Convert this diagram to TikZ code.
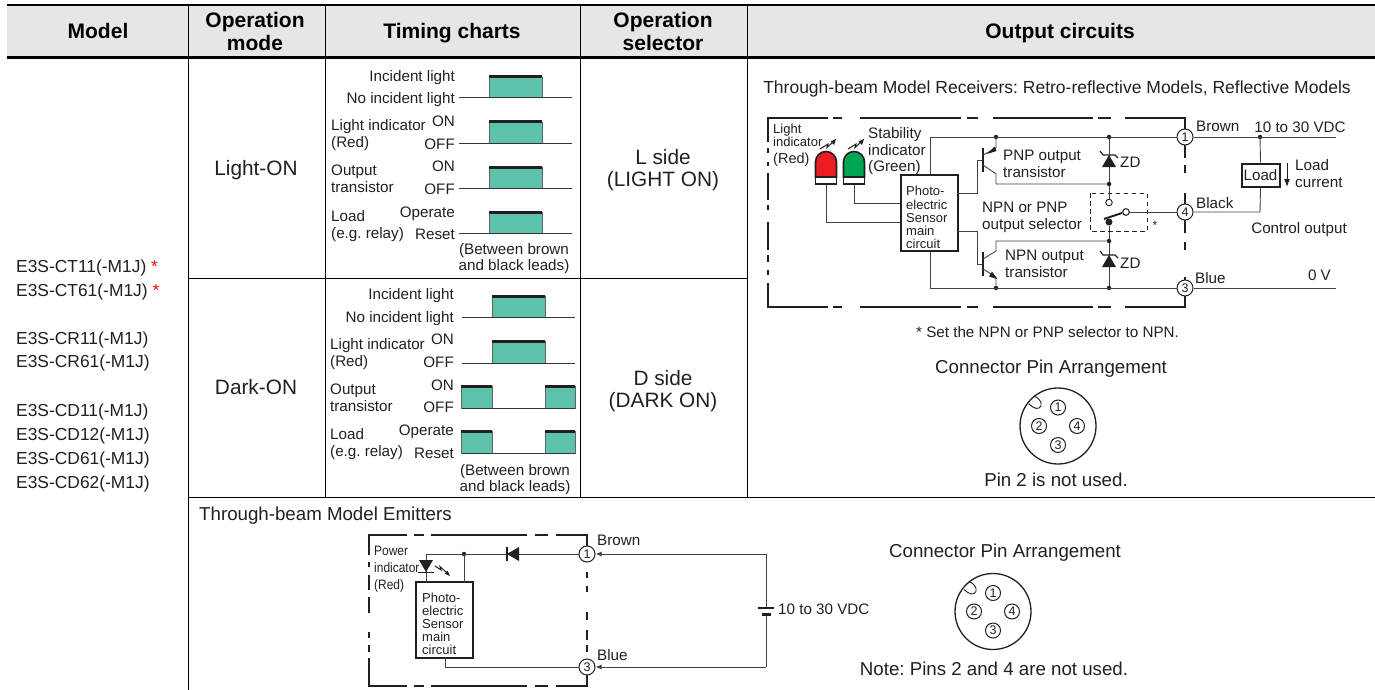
\documentclass[tikz,border=0pt]{standalone}
\usepackage{fontspec}
\setmainfont{Liberation Sans}
\newfontfamily\narrowf[FakeStretch=0.88]{Liberation Sans}
\usetikzlibrary{arrows.meta}
\definecolor{ink}{HTML}{231F20}
\definecolor{teal}{HTML}{5DC3AB}
\definecolor{hdr}{HTML}{E6E6E6}
\definecolor{ledred}{HTML}{ED1C24}
\definecolor{ledgreen}{HTML}{00A651}
\newcommand{\fs}[1]{\fontsize{#1}{#1}\selectfont}
\tikzset{
 txt/.style={inner sep=0pt,text=ink,font=\frenchspacing\fs{15.2},yshift=-3.5pt},
 L/.style={txt,anchor=mid west},
 R/.style={txt,anchor=mid east},
 C/.style={txt,anchor=mid},
 big/.style={font=\frenchspacing\fs{18.7},yshift=-1pt},
 title/.style={font=\frenchspacing\fs{17.5},yshift=-.7pt},
 mod/.style={font=\fs{17.4},yshift=-.7pt},
 mode/.style={font=\fs{20.8},yshift=-1.5pt},
 small/.style={font=\fs{13}},
 tiny/.style={font=\narrowf\fs{13.6}},
 head/.style={inner sep=0pt,anchor=mid,text=black,font=\fs{21}\bfseries,yshift=-5.5pt},
 rule/.style={line width=1.1pt,black},
 thick rule/.style={line width=2.6pt,black},
 wire/.style={line width=0.9pt,ink!85!white},
 frame/.style={line width=2pt,ink},
 bx/.style={draw=ink,line width=2pt,fill=white,inner sep=0pt},
 pin/.style={circle,draw=ink,line width=1pt,fill=white,inner sep=0pt,minimum size=16pt,font=\fs{12.5},text=ink},
 spin/.style={circle,draw=ink,line width=1pt,inner sep=0pt,minimum size=15pt,font=\fs{12.5},text=ink},
 dot/.style={circle,fill=ink,inner sep=0pt,minimum size=4.5pt},
 ring/.style={circle,draw=ink,line width=.9pt,fill=white,inner sep=0pt,minimum size=6.5pt},
 pulsefill/.style={fill=teal,draw=ink!70!white,line width=.8pt},
 pulsetop/.style={line width=3pt,ink},
 base/.style={line width=1pt,ink!90!white},
}
\newcommand{\chartpulse}[4]{%
 \path[pulsefill] (#3,#2) rectangle (#4,#1);
 \draw[pulsetop] (#3,#1) -- (#4,#1);}
\newcommand{\zener}[2]{%
 \fill[ink] (#1,#2) -- (#1-7,#2+12) -- (#1+7,#2+12) -- cycle;
 \draw[line width=1.1pt,ink] (#1-9,#2-4) -- (#1-6,#2) -- (#1+6,#2) -- (#1+9,#2+3);}
\newcommand{\bolt}[2]{%
 \draw[line width=1pt,ink] (#1,#2) -- (#1+8,#2-5) -- (#1+7,#2-1.5) -- (#1+13,#2-7);
 \fill[ink] (#1+16,#2-10) -- (#1+10.5,#2-7.5) -- (#1+14,#2-4) -- cycle;}
\newcommand{\connector}[3]{%
 \node[circle,draw=ink,line width=1.3pt,minimum size=76pt,inner sep=0pt] (#1c) at (#2,#3) {};
 \draw[line width=.9pt,ink] (#2-29,#3-22) .. controls (#2-24,#3-17) and (#2-19,#3-16) .. (#2-17,#3-20) .. controls (#2-16,#3-24) and (#2-19,#3-28) .. (#2-24,#3-30);
 \node[spin] (#11) at (#2,#3-18.5) {1};
 \node[spin] (#12) at (#2-19,#3) {2};
 \node[spin] (#14) at (#2+19,#3) {4};
 \node[spin] (#13) at (#2,#3+19) {3};}
\begin{document}
\begin{tikzpicture}[x=1pt,y=-1pt]
\useasboundingbox (0,0) rectangle (1375,690);
% header
\fill[hdr] (7,5) rectangle (1375,57);
\node[head] (hModel) at (98,30) {Model};
\node[head] (hOp1) at (255,19) {Operation};
\node[head] (hOp2) at (255,42.5) {mode};
\node[head] (hTim) at (452,30) {Timing charts};
\node[head] (hSel1) at (663,19) {Operation};
\node[head] (hSel2) at (663,42.5) {selector};
\node[head] (hOut) at (1060,30) {Output circuits};
% table rules
\draw[thick rule] (7,5) -- (1375,5);
\draw[thick rule] (7,57.5) -- (1375,57.5);
\draw[rule] (188.5,5) -- (188.5,690);
\draw[rule] (325.5,5) -- (325.5,497.5);
\draw[rule] (580.5,5) -- (580.5,497.5);
\draw[rule] (747.5,5) -- (747.5,497.5);
\draw[rule] (188,278.5) -- (747.5,278.5);
\draw[rule] (188,497.5) -- (1375,497.5);
% models
\node[L,mod] (m1) at (16,266) {E3S-CT11(-M1J) \textcolor{red}{*}};
\node[L,mod] (m2) at (16,290) {E3S-CT61(-M1J) \textcolor{red}{*}};
\node[L,mod] (m3) at (16,338) {E3S-CR11(-M1J)};
\node[L,mod] (m4) at (16,361) {E3S-CR61(-M1J)};
\node[L,mod] (m5) at (16,410) {E3S-CD11(-M1J)};
\node[L,mod] (m6) at (16,433.5) {E3S-CD12(-M1J)};
\node[L,mod] (m7) at (16,458) {E3S-CD61(-M1J)};
\node[L,mod] (m8) at (16,482) {E3S-CD62(-M1J)};
% modes
\node[C,mode] (mLon) at (256,168) {Light-ON};
\node[C,mode] (mDon) at (256,387) {Dark-ON};
\node[C,mode] (s1) at (663,157) {L side};
\node[C,mode] (s2) at (663,179) {(LIGHT ON)};
\node[C,mode] (s3) at (663,378) {D side};
\node[C,mode] (s4) at (663,400) {(DARK ON)};
% chart 1
\chartpulse{77}{97.5}{489}{542}
\chartpulse{122}{143}{489}{542}
\chartpulse{167}{188}{489}{542}
\chartpulse{212}{233.5}{489}{542}
\draw[base] (459,97.5)--(572,97.5) (459,143)--(572,143) (459,188)--(572,188) (459,233.5)--(572,233.5);
\node[R] (a1) at (455,75) {Incident light};
\node[R] (a2) at (455,97) {No incident light};
\node[R] (a3) at (455,120) {ON};
\node[R] (a4) at (455,143) {OFF};
\node[L] (a5) at (331,124) {Light indicator};
\node[L] (a6) at (331,141) {(Red)};
\node[L] (a7) at (331,169) {Output};
\node[L] (a8) at (331,186) {transistor};
\node[R] (a9) at (455,165) {ON};
\node[R] (a10) at (455,188) {OFF};
\node[L] (a11) at (331,215) {Load};
\node[L] (a12) at (331,232) {(e.g. relay)};
\node[R] (a13) at (455,211) {Operate};
\node[R] (a14) at (455,233) {Reset};
\node[C] (a15) at (514,248) {(Between brown};
\node[C] (a16) at (514,264) {and black leads)};
% chart 2
\chartpulse{296}{317.5}{492}{545}
\chartpulse{341.5}{363}{492}{545}
\path[pulsefill] (461,408) rectangle (492,386.5);
\path[pulsefill] (545,408) rectangle (575,386.5);
\path[pulsefill] (461,453.5) rectangle (492,431.5);
\path[pulsefill] (545,453.5) rectangle (575,431.5);
\draw[pulsetop] (461,386.5)--(492,386.5) (545,386.5)--(575,386.5) (461,431.5)--(492,431.5) (545,431.5)--(575,431.5);
\draw[base] (462,317.5)--(575,317.5) (462,363)--(575,363) (462,408)--(575,408) (462,453.5)--(575,453.5);
\node[R] (b1) at (454,293) {Incident light};
\node[R] (b2) at (454,316) {No incident light};
\node[R] (b3) at (454,338) {ON};
\node[R] (b4) at (454,361) {OFF};
\node[L] (b5) at (330,343) {Light indicator};
\node[L] (b6) at (330,360) {(Red)};
\node[L] (b7) at (330,388) {Output};
\node[L] (b8) at (330,405) {transistor};
\node[R] (b9) at (454,384) {ON};
\node[R] (b10) at (454,406) {OFF};
\node[L] (b11) at (330,433) {Load};
\node[L] (b12) at (330,450) {(e.g. relay)};
\node[R] (b13) at (454,429) {Operate};
\node[R] (b14) at (454,452) {Reset};
\node[C] (b15) at (515,469) {(Between brown};
\node[C] (b16) at (515,485) {and black leads)};
% output circuit title
\node[C,title] (t1) at (1057,87) {Through-beam Model Receivers: Retro-reflective Models, Reflective Models};
% frame receiver
\draw[frame] (768,142)--(768,118)--(828,118) (833,118)--(842,118) (860,118)--(961,118) (967,118)--(978,118) (993,118)--(1093,118) (1098,118)--(1111,118) (1125,118)--(1185,118)--(1185,158)
 (1185,165)--(1185,173) (1185,193)--(1185,233) (1185,242)--(1185,250) (1185,277)--(1185,307)--(1125,307) (1111,307)--(1098,307) (1093,307)--(993,307) (978,307)--(967,307) (961,307)--(860,307) (842,307)--(833,307) (828,307)--(768,307)--(768,283)
 (768,148)--(768,153) (768,162)--(768,166) (768,173)--(768,200) (768,205)--(768,210) (768,222)--(768,250) (768,255)--(768,262) (768,270)--(768,275);
% pins
\node[pin] (p1) at (1185,137) {1};
\node[pin] (p4) at (1185,212) {4};
\node[pin] (p3) at (1185,288) {3};
% main circuit box
\node[bx,minimum width=57pt,minimum height=76pt] (main) at (929.5,213) {};
\node[L,small] (mt1) at (906,189) {Photo-};
\node[L,small] (mt2) at (906,203) {electric};
\node[L,small] (mt3) at (906,216) {Sensor};
\node[L,small] (mt4) at (906,229) {main};
\node[L,small] (mt5) at (906,242) {circuit};
% junctions
\node[dot] (j1) at (996,137) {};
\node[dot] (j2) at (1109,137) {};
\node[dot] (j3) at (1260,137) {};
\node[dot] (j4) at (996,288) {};
\node[dot] (j5) at (1109,288) {};
\node[dot] (j6) at (1109,184) {};
\node[dot] (j7) at (1109,241) {};
\node[ring] (sw1) at (1109,202.5) {};
\node[ring] (sw2) at (1126,212) {};
\node[circle,fill=ink,inner sep=0pt,minimum size=7pt] (sw3) at (1109,222) {};
\coordinate (e1) at (1336,137);
\coordinate (e3) at (1336,288);
% rails
\draw[wire] (930,175) -- (930,137) -- (p1.west);
\draw[wire] (930,251) -- (930,288) -- (p3.west);
\draw[wire] (p1.east) -- (e1);
\draw[wire] (p3.east) -- (e3);
% PNP
\draw[wire] (958,193.5) -- (977,193.5) -- (977,160) -- (983,160);
\draw[line width=2pt,ink] (983,148) -- (983,172);
\draw[wire] (983,155) -- (996,148) -- (j1);
\fill[ink] (987,154) -- (994.5,146.5) -- (996.5,151) -- cycle;
\draw[wire] (983,165) -- (996,174) -- (996,184) -- (j6);
% NPN
\draw[wire] (958,231) -- (977,231) -- (977,264) -- (983,264);
\draw[line width=2pt,ink] (983,252) -- (983,276);
\draw[wire] (983,259) -- (996,251) -- (996,241) -- (j7);
\draw[wire] (983,269) -- (996,277) -- (j4);
\fill[ink] (997,279) -- (989,276.5) -- (992,271.5) -- cycle;
% zeners
\draw[wire] (j2) -- (j6) -- (sw1);
\zener{1109}{155}
\draw[wire] (sw3) -- (j7) -- (j5);
\zener{1109}{255}
% selector
\draw[line width=.9pt,ink,dash pattern=on 4.5pt off 3.5pt] (1090,193) rectangle (1147,231);
\draw[line width=2pt,ink] (1104,219) -- (1122,213);
\node[ring] at (sw2) {};
\draw[wire] (sw2.east) -- (p4.west);
% load
\node[bx,minimum width=38pt,minimum height=23pt,font=\fs{15.2},text=ink] (load) at (1260.5,175) {Load};
\draw[wire] (j3) -- (load.north);
\draw[wire] (load.south) -- (1260,212) -- (p4.east);
\coordinate (la) at (1287,163); \coordinate (lb) at (1287,187);
\draw[line width=1pt,ink,-{Latex[length=8pt,width=6pt]}] (la) -- (lb);
% LEDs
\draw[line width=1.6pt,ink,fill=ledred] (815.5,177) -- (815.5,162) arc (180:360:10.5) -- (836.5,177) -- cycle;
\draw[line width=1.6pt,ink,fill=white] (815.5,177) rectangle (836.5,184);
\draw[line width=1.6pt,ink,fill=ledgreen] (843.5,177) -- (843.5,162) arc (180:360:10.5) -- (864.5,177) -- cycle;
\draw[line width=1.6pt,ink,fill=white] (843.5,177) rectangle (864.5,184);
\draw[wire] (826,184.5) -- (826,222) -- (main.west|-826,222);
\draw[wire] (854,184.5) -- (854,203) -- (main.west|-854,203);
\bolt{820}{149}
\bolt{848}{149}
% receiver labels
\node[L,small] (l1) at (773,127) {Light};
\node[L,small] (l2) at (773,140) {indicator};
\node[L,font=\fs{14.5}] (l3) at (773,157) {(Red)};
\node[L] (l4) at (868,132) {Stability};
\node[L] (l5) at (868,149) {indicator};
\node[L] (l6) at (868,165) {(Green)};
\node[L] (l7) at (1003,154) {PNP output};
\node[L] (l8) at (1003,171) {transistor};
\node[L] (l9) at (982,206) {NPN or PNP};
\node[L] (l10) at (982,223) {output selector};
\node[L] (l11) at (1005,254) {NPN output};
\node[L] (l12) at (1005,271) {transistor};
\node[L] (z1) at (1120,161) {ZD};
\node[L] (z2) at (1120,262) {ZD};
\node[C,font=\fs{12}] (st) at (1155,223) {*};
\node[L] (c1) at (1196,125) {Brown};
\node[L] (c2) at (1195,277) {Blue};
\node[L] (c3) at (1196,202) {Black};
\node[C] (c4) at (1300,126) {10 to 30 VDC};
\node[R] (c5) at (1331,274) {0 V};
\node[C] (c6) at (1299,227) {Control output};
\node[L] (c7) at (1295,164) {Load};
\node[L] (c8) at (1295,181) {current};
\node[C] (n1) at (1047.5,331) {* Set the NPN or PNP selector to NPN.};
\node[C,big] (n2) at (1051,366) {Connector Pin Arrangement};
\connector{cA}{1058}{426}
\node[C,big] (n3) at (1056,479) {Pin 2 is not used.};
% emitters
\node[L,big] (e0) at (199,513) {Through-beam Model Emitters};
\draw[frame] (369,555)--(369,535)--(407,535) (414,535)--(424,535) (431,535)--(527,535) (535,535)--(548,535) (556,535)--(587,535)--(587,546)
 (587,572)--(587,578) (587,586)--(587,592) (587,612)--(587,620) (587,630)--(587,640) (587,645)--(587,652)
 (587,674)--(587,686)--(556,686) (548,686)--(535,686) (527,686)--(431,686) (424,686)--(414,686) (407,686)--(369,686)--(369,658)
 (369,562)--(369,567) (369,575)--(369,590) (369,597)--(369,613) (369,632)--(369,638) (369,645)--(369,652);
\node[pin] (q1) at (587,554) {1};
\node[pin] (q3) at (587,667) {3};
\node[bx,minimum width=57pt,minimum height=76pt] (emain) at (444.5,620) {};
\node[L,small] (et1) at (422,596) {Photo-};
\node[L,small] (et2) at (422,609) {electric};
\node[L,small] (et3) at (422,622.5) {Sensor};
\node[L,small] (et4) at (422,635.5) {main};
\node[L,small] (et5) at (422,648.5) {circuit};
\node[dot] (ej) at (464,554) {};
\coordinate (bat1) at (766,554);
\coordinate (bat2) at (766,667);
% wires
\draw[wire] (q1.west) -- (426,554) -- (426,582);
\draw[wire] (ej) -- (464,582);
\draw[wire] (445,658) -- (445,667) -- (q3.west);
% diode
\fill[ink] (507,554) -- (519,547) -- (519,561) -- cycle;
\draw[line width=1.4pt,ink] (507,547) -- (507,561);
% LED
\fill[ink] (419,560) -- (433,560) -- (426,572) -- cycle;
\draw[line width=1.4pt,ink] (418,572.5) -- (434,572.5);
\draw[line width=1pt,ink] (435,566) -- (441,570) -- (440,566.5) -- (446,572);
\fill[ink] (450,576) -- (444.5,573.5) -- (447.5,570.5) -- cycle;
% supply
\draw[wire,-{Latex[length=6pt,width=5pt]}] (bat1) -- (q1.east);
\draw[wire,-{Latex[length=6pt,width=5pt]}] (bat2) -- (q3.east);
\draw[wire] (bat1) -- (766,608);
\draw[wire] (766,614) -- (bat2);
\draw[line width=1.1pt,ink] (758,608) -- (774,608);
\draw[line width=3pt,ink] (762,614) -- (771,614);
\node[L] (v) at (778,608) {10 to 30 VDC};
\node[L] (e1t) at (597,539) {Brown};
\node[L] (e3t) at (597,654) {Blue};
\node[L,tiny] (p1t) at (374,549) {Power};
\node[L,tiny] (p2t) at (374,566) {indicator};
\node[L,tiny] (p3t) at (374,583) {(Red)};
\node[C,big] (n4) at (1005,550) {Connector Pin Arrangement};
\connector{cB}{993}{611.5}
\node[C,big] (n5) at (994,668) {Note: Pins 2 and 4 are not used.};
\end{tikzpicture}
\end{document}
